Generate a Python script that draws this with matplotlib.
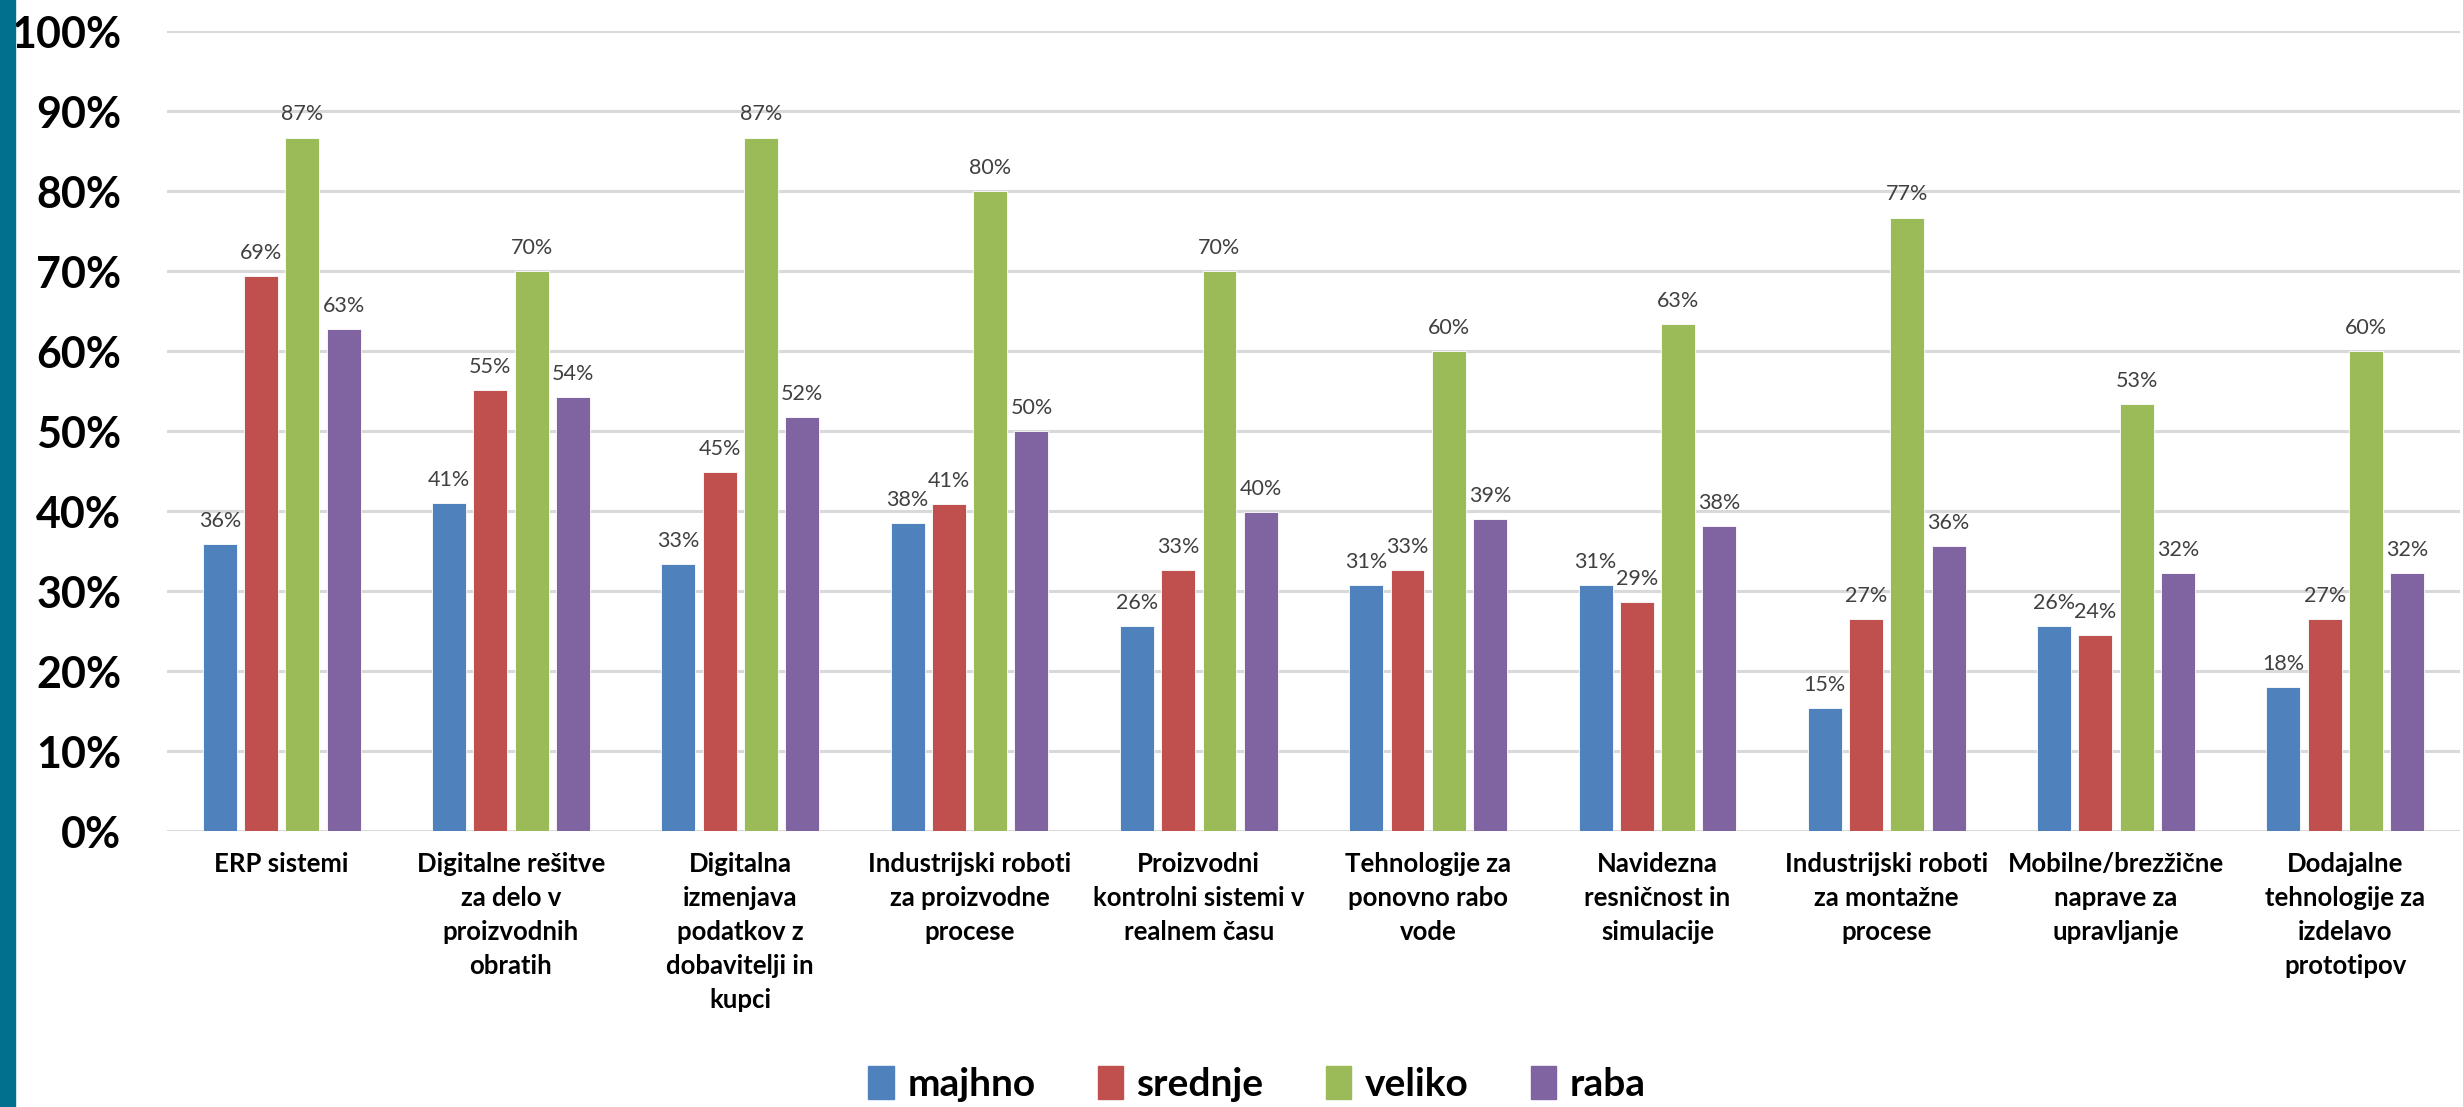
import matplotlib
matplotlib.use("Agg")
import matplotlib.pyplot as plt
import matplotlib.patches as mpatches
import numpy as np

categories = [
    "ERP sistemi",
    "Digitalne rešitve\nza delo v\nproizvodnih\nobratih",
    "Digitalna\nizmenjava\npodatkov z\ndobavitelji in\nkupci",
    "Industrijski roboti\nza proizvodne\nprocese",
    "Proizvodni\nkontrolni sistemi v\nrealnem času",
    "Tehnologije za\nponovno rabo\nvode",
    "Navidezna\nresničnost in\nsimulacije",
    "Industrijski roboti\nza montažne\nprocese",
    "Mobilne/brezžične\nnaprave za\nupravljanje",
    "Dodajalne\ntehnologije za\nizdelavo\nprototipov",
]
series_names = ["majhno", "srednje", "veliko", "raba"]
majhno = [35.90, 41.03, 33.33, 38.46, 25.64, 30.77, 30.77, 15.38, 25.64, 17.95]
srednje = [69.39, 55.10, 44.90, 40.82, 32.65, 32.65, 28.57, 26.53, 24.49, 26.53]
veliko = [86.67, 70.00, 86.67, 80.00, 70.00, 60.00, 63.33, 76.67, 53.33, 60.00]
raba = [62.71, 54.24, 51.69, 50.00, 39.83, 38.98, 38.14, 35.59, 32.20, 32.20]
colors = ["#4F81BD", "#C0504D", "#9BBB59", "#8064A2"]
yticks = [0, 10, 20, 30, 40, 50, 60, 70, 80, 90, 100]
ytick_labels = [f"{v}%" for v in yticks]

plt.rcParams['font.family'] = ['Lato', 'DejaVu Sans']

fig = plt.figure(figsize=(24.63, 11.07), dpi=100)
fig.patches.append(mpatches.Rectangle((0, 0), 15 / 2463, 1, transform=fig.transFigure,
                                      color="#00708F", zorder=0))
ax = fig.add_axes([167 / 2463, 1 - 831 / 1107, (2460 - 167) / 2463, (831 - 31) / 1107])

x = np.arange(len(categories))
step = 0.18
width = 0.148
all_series = [majhno, srednje, veliko, raba]
for i, (vals, col) in enumerate(zip(all_series, colors)):
    pos = x + (i - 1.5) * step
    bars = ax.bar(pos, vals, width=width, color=col, edgecolor="white", linewidth=0.6, zorder=3,
                  label=series_names[i])
    for b, v in zip(bars, vals):
        ax.annotate(f"{round(v):d}%", (b.get_x() + b.get_width() / 2, v), xytext=(0, 9.5),
                    textcoords="offset points", ha="center", va="bottom",
                    fontsize=15.5, color="#404040")

ax.set_xlim(-0.5, len(categories) - 0.5)
ax.set_ylim(0, 100)
ax.set_yticks(yticks)
ax.set_yticklabels(ytick_labels, fontsize=31, fontweight="bold")
ax.set_xticks(x)
ax.set_xticklabels(categories, fontsize=18.5, fontweight="bold", linespacing=1.5, va="top")
ax.tick_params(axis="both", length=0)
ax.tick_params(axis="x", pad=15)
ax.tick_params(axis="y", pad=33)
for s in ax.spines.values():
    s.set_visible(False)
ax.yaxis.grid(True, color="#D9D9D9", linewidth=2.2, zorder=0)
ax.set_axisbelow(True)

handles = [mpatches.Patch(color=c) for c in colors]
fig.legend(handles, series_names, loc="center", bbox_to_anchor=(1257 / 2463, 1 - 1084 / 1107),
           ncol=4, frameon=False, prop={"size": 28, "weight": "bold"},
           handlelength=0.65, handleheight=0.95, handletextpad=0.35, columnspacing=1.6)

fig.savefig("out.png", dpi=100, facecolor="white")
